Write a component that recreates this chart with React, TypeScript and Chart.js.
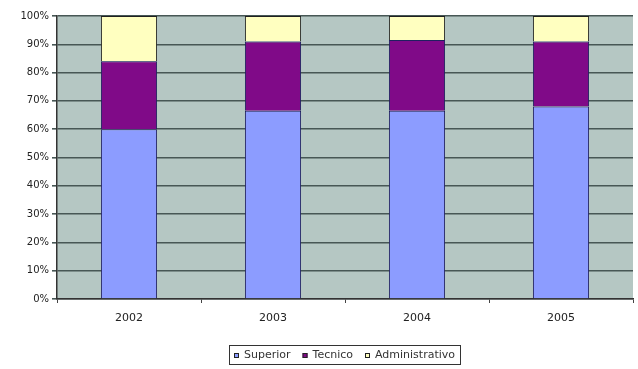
import React, { useEffect, useRef } from "react";
import { Chart, registerables } from "chart.js";

Chart.register(...registerables);

const years = ["2002", "2003", "2004", "2005"];
const superior = [60, 66.5, 66.5, 68];
const tecnico = [24, 24.5, 25, 23];
const administrativo = [16, 9, 8.5, 9];
const yTicks = [0, 10, 20, 30, 40, 50, 60, 70, 80, 90, 100];

const FONT = "DejaVu Sans, Verdana, sans-serif";

const plotBg = {
  id: "plotBg",
  beforeDraw(chart: any) {
    const { ctx, chartArea } = chart;
    ctx.save();
    ctx.fillStyle = "#b5c7c3";
    ctx.fillRect(chartArea.left, chartArea.top, chartArea.right - chartArea.left, chartArea.bottom - chartArea.top);
    ctx.restore();
  },
};

const customLegend = {
  id: "customLegend",
  afterDraw(chart: any) {
    const { ctx, chartArea } = chart;
    const ds = chart.data.datasets;
    ctx.save();
    ctx.font = "11px " + FONT;
    const sq = 5;
    const gapBox = 5;
    const gapItem = 12;
    const widths = ds.map((d: any) => ctx.measureText(d.label).width);
    let total = 5;
    widths.forEach((w: number) => (total += sq + gapBox + w + gapItem));
    total -= 7;
    const cx = (chartArea.left + chartArea.right) / 2;
    const left = Math.round(cx - total / 2);
    const top = 345;
    const h = 19;
    ctx.fillStyle = "#ffffff";
    ctx.fillRect(left, top, total, h);
    ctx.strokeStyle = "#333";
    ctx.lineWidth = 1;
    ctx.strokeRect(left + 0.5, top + 0.5, Math.round(total), h);
    let x = left + 5;
    const my = top + h / 2 + 0.5;
    ds.forEach((d: any, i: number) => {
      ctx.fillStyle = d.backgroundColor;
      ctx.fillRect(x, Math.round(my - sq / 2), sq, sq);
      ctx.strokeStyle = "#222";
      ctx.strokeRect(x + 0.5, Math.round(my - sq / 2) + 0.5, sq - 1, sq - 1);
      x += sq + gapBox;
      ctx.fillStyle = "#333";
      ctx.textBaseline = "middle";
      ctx.textAlign = "left";
      ctx.fillText(d.label, x, my);
      x += widths[i] + gapItem;
    });
    ctx.restore();
  },
};

export default function App() {
  const ref = useRef<HTMLCanvasElement>(null);
  useEffect(() => {
    document.body.style.margin = "0";
    const chart = new Chart(ref.current!, {
      type: "bar",
      data: {
        labels: years,
        datasets: [
          { label: "Superior", data: superior, backgroundColor: "#8c9cff", borderColor: "#202060", borderWidth: 1 },
          { label: "Tecnico", data: tecnico, backgroundColor: "#800a88", borderColor: "#202060", borderWidth: 1 },
          { label: "Administrativo", data: administrativo, backgroundColor: "#ffffc0", borderColor: "#202020", borderWidth: 1 },
        ],
      },
      options: {
        animation: false,
        responsive: false,
        layout: { padding: { top: 16, right: 5, left: 0, bottom: 30 } },
        datasets: { bar: { categoryPercentage: 1, barPercentage: 0.39 } } as any,
        scales: {
          x: {
            stacked: true,
            grid: { display: true, drawOnChartArea: false, offset: true, tickLength: 4, color: "#444" },
            border: { color: "#333", width: 1.5 },
            ticks: { color: "#222", font: { family: FONT, size: 11 }, padding: 9 },
            afterFit(scale: any) { scale.height = 40; },
          },
          y: {
            stacked: true,
            min: 0,
            max: 100,
            afterBuildTicks(scale: any) { scale.ticks = yTicks.map((v) => ({ value: v })); },
            grid: { color: "#475755", lineWidth: 1.6, tickLength: 5 },
            border: { color: "#333", width: 1.5 },
            ticks: {
              color: "#222",
              font: { family: FONT, size: 10 },
              padding: 3,
              callback: (v: any) => v + "%",
            },
            afterFit(scale: any) { scale.width = 57; },
          },
        },
        plugins: {
          legend: { display: false },
          tooltip: { enabled: false },
        },
      },
      plugins: [plotBg, customLegend],
    });
    return () => chart.destroy();
  }, []);
  return (
    <div style={{ width: 638, height: 369 }}>
      <canvas ref={ref} width={638} height={369} style={{ display: "block" }} />
    </div>
  );
}
